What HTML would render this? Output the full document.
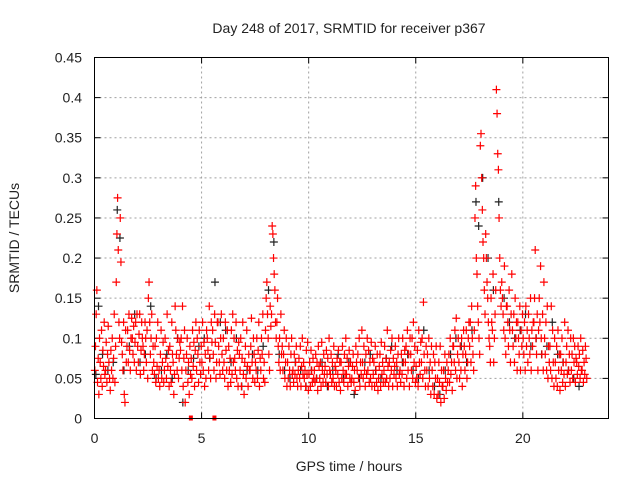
<!DOCTYPE html>
<html><head><meta charset="utf-8"><style>
body{margin:0;background:#fff}
svg text{font-family:"Liberation Sans",sans-serif;font-size:14px;fill:#222}
</style></head><body>
<svg id="chart" width="640" height="480" viewBox="0 0 640 480" xmlns="http://www.w3.org/2000/svg">
<rect width="640" height="480" fill="#fff"/>
<text x="349" y="33" text-anchor="middle">Day 248 of 2017, SRMTID for receiver p367</text>
<text transform="translate(19,238) rotate(-90)" text-anchor="middle">SRMTID / TECUs</text>
<text x="349" y="471" text-anchor="middle">GPS time / hours</text>
<g id="grid"></g>
<g id="ticks"></g>
<g id="blk"></g>
<g id="red"></g>
<rect x="94.5" y="57.5" width="514" height="361" fill="none" stroke="#000" stroke-width="1"/>
</svg>
<script>
const xTicks=[0,5,10,15,20];
const yTicks=[0,0.05,0.1,0.15,0.2,0.25,0.3,0.35,0.4,0.45];
const yTickLabels=["0","0.05","0.1","0.15","0.2","0.25","0.3","0.35","0.4","0.45"];
const binWidth=0.25;
// red series: values in milli-TECU per 0.25h bin
const redBins=[
[60,90,130,160,45,75,30,100],[70,50,110,40,85,65,120,55],[60,95,45,80,115,70,50,35],[85,60,100,50,75,130,45,90],
[170,230,275,210,120,100,250,195],[95,80,60,120,30,20,110,70],[90,110,70,130,85,60,100,125],[100,80,115,70,95,120,60,130],
[90,70,105,130,55,85,120,100],[90,60,80,120,100,70,110,50],[150,170,120,80,100,130,60,90],[70,55,90,45,100,65,120,50],
[60,40,80,110,50,70,95,45],[60,100,75,50,130,65,85,40],[90,60,45,120,80,70,30,55],[140,110,80,60,100,50,75,95],
[85,100,60,140,40,75,110,20],[60,80,100,45,70,30,90,55],[75,50,110,65,95,40,85,120],[60,100,80,45,110,70,55,90],
[70,120,60,95,40,80,50,110],[100,85,60,140,75,50,120,95],[110,80,60,130,95,50,70,120],[120,90,70,55,100,130,80,60],
[100,70,50,120,85,60,110,40],[90,60,75,45,110,55,130,70],[100,75,60,120,50,85,40,95],[80,60,100,40,75,120,55,30],
[70,90,50,110,65,40,80,60],[60,90,125,70,50,100,80,45],[70,60,100,50,85,120,40,75],[60,100,80,130,50,70,45,110],
[150,170,130,100,80,60,140,115],[130,240,230,200,180,160,120,100],[120,150,90,70,100,60,130,80],[90,60,80,110,50,70,100,40],
[70,50,90,60,40,80,100,55],[60,45,80,55,70,90,50,40],[60,75,50,90,40,65,100,55],[70,50,60,40,85,55,95,35],
[55,70,40,85,60,45,75,50],[60,45,80,50,70,35,90,65],[50,70,40,95,60,45,80,55],[65,45,85,55,75,40,100,60],
[55,80,45,70,50,90,40,65],[60,40,75,55,85,45,70,35],[70,50,90,60,45,80,55,100],[55,75,40,65,85,50,70,45],
[50,65,80,45,60,35,90,70],[60,80,50,100,40,70,55,110],[70,50,90,60,40,80,55,100],[60,85,45,70,50,95,40,75],
[55,70,40,90,60,45,80,35],[50,65,80,40,95,55,70,45],[60,90,45,75,50,110,65,40],[70,50,85,60,100,40,75,55],
[65,90,50,70,40,80,100,55],[60,45,80,55,100,70,40,85],[70,90,50,110,60,80,40,100],[80,60,100,50,120,70,90,45],
[65,50,85,40,110,70,55,95],[70,100,50,145,80,60,40,90],[60,80,40,100,50,70,30,90],[60,40,80,30,70,50,90,25],
[50,30,70,45,90,20,60,40],[40,60,25,80,50,35,70,45],[60,80,45,100,55,70,35,90],[90,70,110,60,125,50,80,100],
[70,50,90,60,100,40,80,110],[90,60,80,110,50,70,100,120],[90,120,70,140,100,80,60,110],[250,290,200,180,140,120,100,80],
[340,355,300,260,220,200,160,130],[230,200,170,150,120,100,90,70],[150,120,110,180,70,100,130,160],[410,380,330,310,250,200,160,140],
[170,150,130,110,190,100,80,140],[140,120,90,160,110,70,130,180],
[110,90,130,70,150,100,120,60],[120,100,80,140,60,110,90,130],[100,80,120,60,140,90,110,70],
[130,100,80,150,60,110,90,120],[120,150,210,100,80,130,60,110],[150,120,190,100,80,130,60,170],
[100,80,120,60,140,50,90,70],[90,60,140,50,110,70,40,100],
[70,50,90,40,110,60,80,35],[80,60,100,45,70,55,120,40],[70,90,55,110,60,80,45,100],
[60,80,50,100,70,90,45,75],[70,55,90,65,80,50,100,60],[60,85,45,70,55,90,75,50]
];
// black series (milli-TECU) sparse points per bin
const blackBins=[
[55,140],[80],[60],[70],[260,225],[60],[90],[130],[70],[80],[140],[50],[60],[80],[50],[100],[20],[60],[75],[90],
[100],[75],[170],[120],[110],[70],[100],[40],[60],[80],[60],[90],[160],[220],[80],[60],[50],[70],[60],[40],
[60],[50],[70],[40],[60],[80],[50],[70],
[30],[50],[70],[80],[60],[50],[75],[90],[60],[70],[80],[60],[50],[110],[60],[40],[30],[60],[80],[100],
[90],[70],[110],[270,240],[300],[200],[160],[270],[150],[120],[100],[110],[130],[90],[100],[80],[90],[120],
[80],[70],[60],[50],[40]
];
const squareHours=[4.5,5.6];
const X0=94.5,X1=608.5,Y0=418.5,Y1=57.5,XMAX=24,YMAX=0.45;
const sx=h=>X0+(X1-X0)*h/XMAX;
const sy=v=>Y0-(Y0-Y1)*v/YMAX;
const NS="http://www.w3.org/2000/svg";
function mk(tag,attrs,parent){const e=document.createElementNS(NS,tag);for(const k in attrs)e.setAttribute(k,attrs[k]);parent.appendChild(e);return e;}
const grid=document.getElementById('grid'),ticks=document.getElementById('ticks');
xTicks.forEach(t=>{
  const x=sx(t);
  if(t>0){const g=mk('line',{x1:x,x2:x,y1:Y0,y2:Y1,stroke:'#a0a0a0','stroke-dasharray':'2,3'},grid);
  
  }
  mk('line',{x1:x,x2:x,y1:Y0,y2:Y0-6,stroke:'#000'},ticks);
  mk('line',{x1:x,x2:x,y1:Y1,y2:Y1+6,stroke:'#000'},ticks);
  const tx=mk('text',{x:x,y:443,'text-anchor':'middle'},ticks);tx.textContent=t;
  
  
});
yTicks.forEach((t,i)=>{
  const y=sy(t);
  if(t>0&&t<YMAX){const g=mk('line',{x1:X0,x2:X1,y1:y,y2:y,stroke:'#a0a0a0','stroke-dasharray':'2,3'},grid);
  
  }
  mk('line',{x1:X0,x2:X0+6,y1:y,y2:y,stroke:'#000'},ticks);
  mk('line',{x1:X1,x2:X1-6,y1:y,y2:y,stroke:'#000'},ticks);
  const tx=mk('text',{x:82,y:y+5,'text-anchor':'end'},ticks);tx.textContent=yTickLabels[i];
  
  
});
function plus(g,h,v,col){
  const x=sx(h),y=sy(v);
  const p=mk('path',{d:`M${x-4},${y}H${x+4}M${x},${y-4}V${y+4}`,stroke:col,'stroke-width':1.2,fill:'none'},g);
  
  
}
const blk=document.getElementById('blk'),red=document.getElementById('red');
blackBins.forEach((arr,i)=>arr.forEach((v,j)=>plus(blk,i*binWidth+(j+0.5)*binWidth/arr.length,v/1000,'#222')));
redBins.forEach((arr,i)=>arr.forEach((v,j)=>plus(red,i*binWidth+(j+0.5)*binWidth/arr.length,v/1000,'#ff0000')));
squareHours.forEach(h=>{
  const r=mk('rect',{x:sx(h)-2,y:Y0-3,width:4,height:5,fill:'#ff0000'},red);
  
  
});
</script>
</body></html>
